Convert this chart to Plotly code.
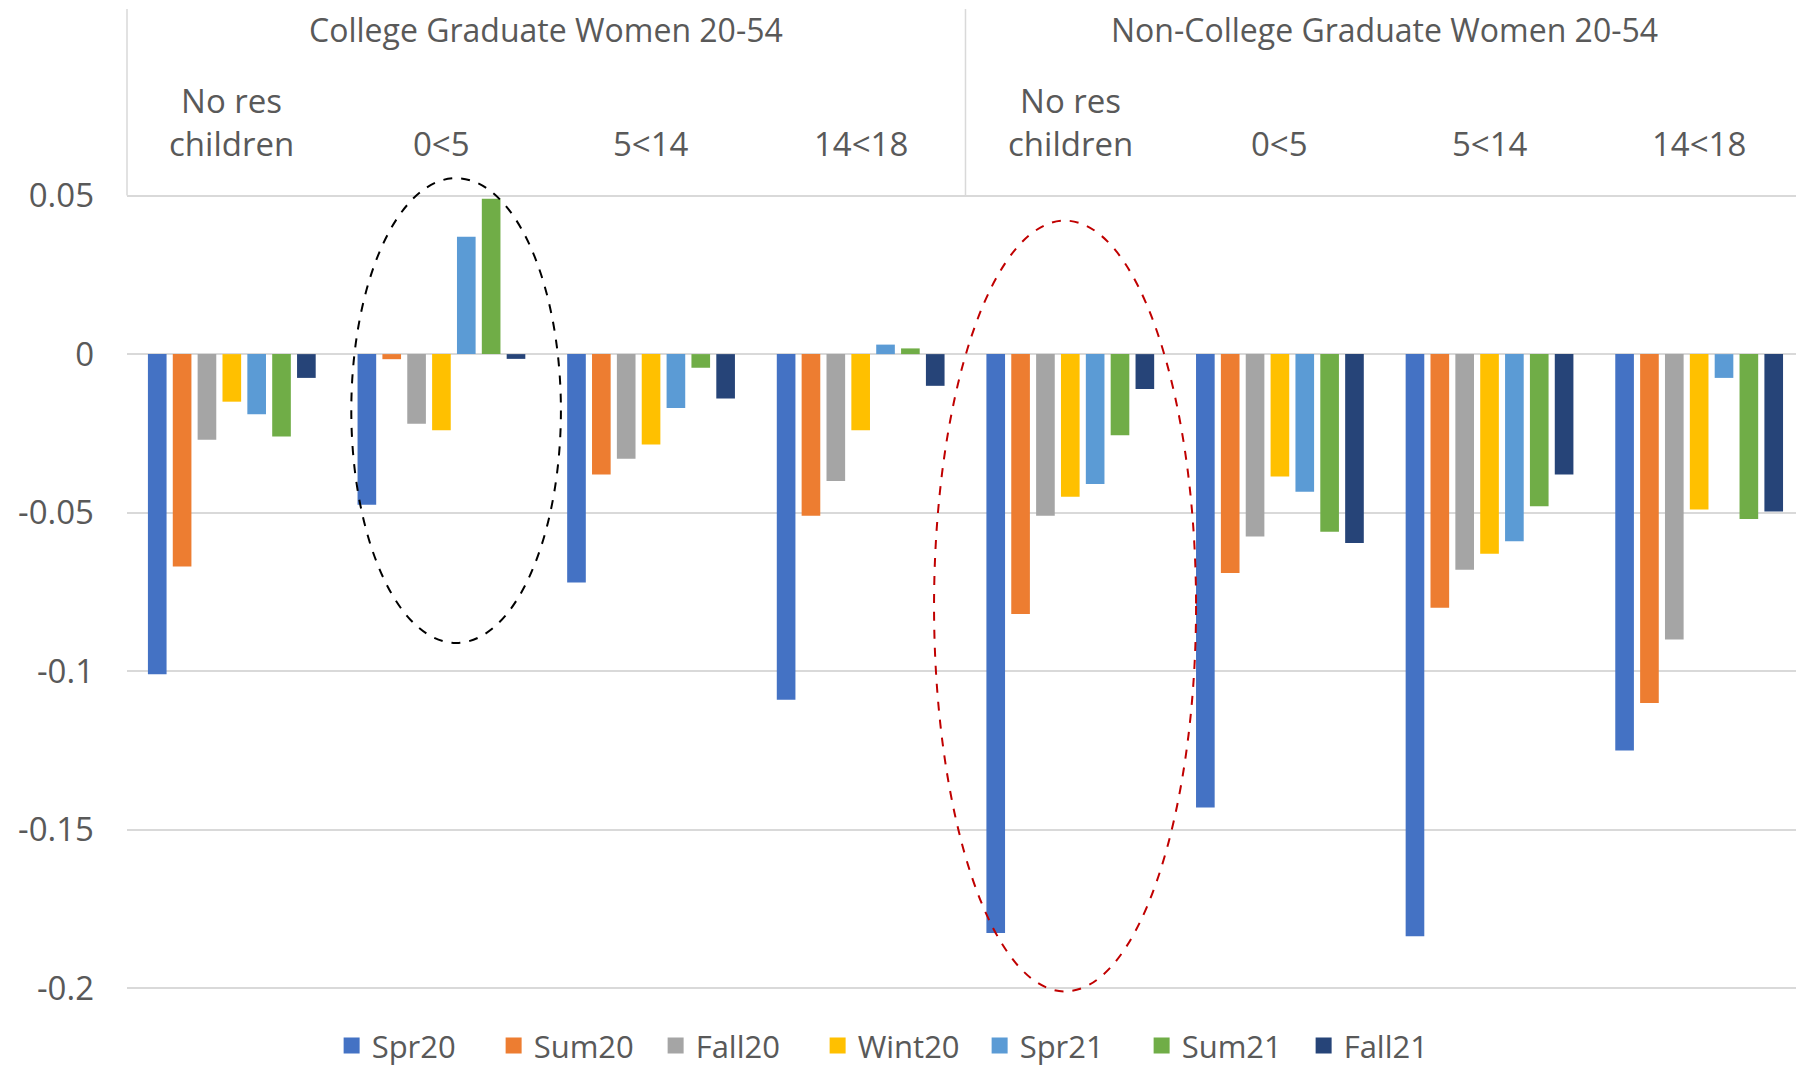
import plotly.graph_objects as go

groups = ["College Graduate Women 20-54", "Non-College Graduate Women 20-54"]
child_ages = ["No res children", "0<5", "5<14", "14<18"]
seasons = ["Spr20", "Sum20", "Fall20", "Wint20", "Spr21", "Sum21", "Fall21"]
colors = ["#4472C4", "#ED7D31", "#A5A5A5", "#FFC000", "#5B9BD5", "#70AD47", "#264478"]

# values per season, 4 college groups then 4 non-college groups
spr20 = [-0.101, -0.0475, -0.072, -0.109, -0.1826, -0.143, -0.1836, -0.125]
sum20 = [-0.067, -0.0016, -0.038, -0.051, -0.082, -0.069, -0.080, -0.110]
fall20 = [-0.027, -0.022, -0.033, -0.040, -0.051, -0.0575, -0.068, -0.090]
wint20 = [-0.015, -0.024, -0.0285, -0.024, -0.045, -0.0386, -0.063, -0.049]
spr21 = [-0.019, 0.037, -0.017, 0.003, -0.041, -0.0434, -0.059, -0.0075]
sum21 = [-0.026, 0.049, -0.0043, 0.0018, -0.0256, -0.056, -0.048, -0.052]
fall21 = [-0.0075, -0.0015, -0.014, -0.010, -0.011, -0.0596, -0.038, -0.0496]
series = [spr20, sum20, fall20, wint20, spr21, sum21, fall21]

ytick_vals = [0.05, 0, -0.05, -0.1, -0.15, -0.2]
ytick_text = ["0.05", "0", "-0.05", "-0.1", "-0.15", "-0.2"]

# dashed ellipses: (x0, x1, y0, y1, colour) in category index / value units
ellipses = [(0.57, 1.57, -0.0911, 0.0555, "black"),
            (3.35, 4.60, -0.201, 0.0421, "#C00000")]

font = "Open Sans"
grey = "#595959"
grid = "#D9D9D9"

x_range = [-0.5, 7.462]
y_range = [-0.2015, 0.0505]


def xd(v):
    return (v - x_range[0]) / (x_range[1] - x_range[0])


def yd(v):
    return (v - y_range[0]) / (y_range[1] - y_range[0])


labels = child_ages * len(groups)
xpos = list(range(len(labels)))

fig = go.Figure()
for name, vals, col in zip(seasons, series, colors):
    fig.add_trace(go.Bar(x=xpos, y=vals, name=name, marker_color=col,
                         marker_line_width=0, legendgroup=name, showlegend=False))
# bigger square legend keys, like Excel
for name, col in zip(seasons, colors):
    fig.add_trace(go.Scatter(x=[None], y=[None], mode="markers", name=name,
                             legendgroup=name,
                             marker=dict(symbol="square", size=20, color=col)))

# category header above the plot
ann = []
for i, lab in enumerate(labels):
    words = lab.split(" ")
    if len(words) > 2:
        txt = " ".join(words[:2]) + "<br>" + " ".join(words[2:])
        yy = 1.0901
    else:
        txt = lab
        yy = 1.0626
    ann.append(dict(x=i, y=yy, xref="x", yref="paper", text=txt, showarrow=False,
                    yanchor="middle", font=dict(family=font, size=33, color=grey)))
for g, gname in enumerate(groups):
    ann.append(dict(x=g * 4 + 1.5, y=1.2065, xref="x", yref="paper", text=gname,
                    showarrow=False, yanchor="middle",
                    font=dict(family=font, size=32, color=grey)))

shapes = []
for xv in [-0.5, 3.5]:
    shapes.append(dict(type="line", xref="x domain", yref="y domain",
                       x0=xd(xv), x1=xd(xv), y0=yd(0.05), y1=1.2315,
                       line=dict(color=grid, width=1.5)))
for x0, x1, y0, y1, col in ellipses:
    shapes.append(dict(type="circle", xref="x domain", yref="y domain",
                       x0=xd(x0), x1=xd(x1), y0=yd(y0), y1=yd(y1),
                       line=dict(color=col, width=2, dash="dash")))

fig.update_layout(
    width=1788, height=1058,
    margin=dict(l=119, r=0, t=186, b=73),
    paper_bgcolor="white", plot_bgcolor="white",
    barmode="group", bargap=0.17, bargroupgap=0.25,
    font=dict(family=font, size=33, color=grey),
    annotations=ann, shapes=shapes,
    legend=dict(orientation="h", xref="container", yref="container",
                x=0.181, xanchor="left", y=0.019, yanchor="middle",
                entrywidth=117, entrywidthmode="pixels",
                font=dict(family=font, size=31, color=grey), traceorder="normal"),
    xaxis=dict(range=x_range, showticklabels=False, showgrid=False, zeroline=False,
               showline=False, automargin=False),
    yaxis=dict(range=y_range, tickvals=ytick_vals, ticktext=ytick_text,
               showgrid=True, gridcolor=grid, gridwidth=1.5, zeroline=True,
               zerolinecolor=grid, zerolinewidth=1.5, ticks="", ticklabelstandoff=32,
               automargin=False, tickfont=dict(family=font, size=33, color=grey)),
)

fig.write_html("out.html")
